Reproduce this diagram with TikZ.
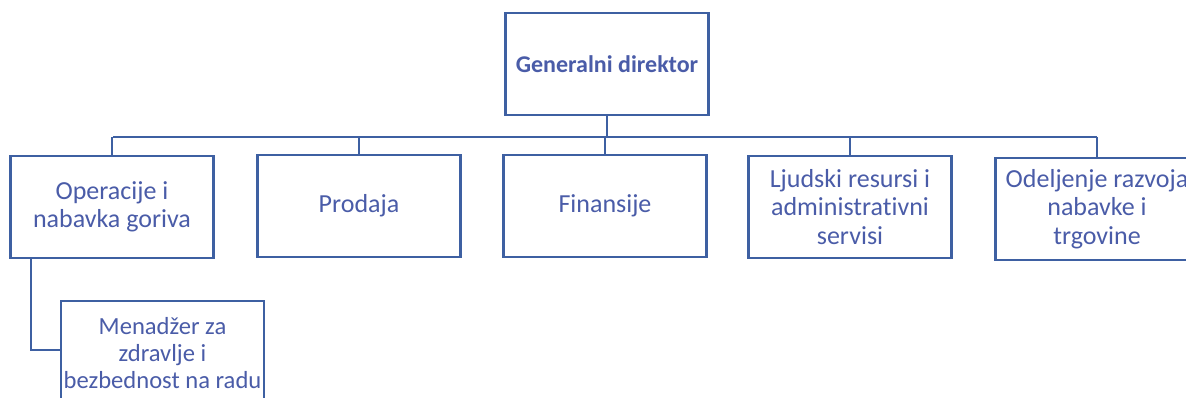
\documentclass[tikz,border=0pt]{standalone}
\usepackage{fontspec}
\setmainfont{Carlito}[Ligatures=NoCommon]
\definecolor{boxblue}{RGB}{62,96,162}
\definecolor{textblue}{RGB}{74,92,168}
\begin{document}
\begin{tikzpicture}[x=1pt,y=-1pt,
  unit/.style={draw=boxblue,line width=2.8pt,minimum width=203pt,minimum height=102pt,
    inner sep=0pt},
  lbl/.style={align=center,inner sep=0pt,text=textblue,
    font=\fontsize{26}{28.5}\selectfont},
  link/.style={draw=boxblue,line width=2.6pt}]
\useasboundingbox (0,0) rectangle (1186,398);
\clip (0,0) rectangle (1186,398);
\fill[white] (0,0) rectangle (1186,398);
\node[unit,label={[lbl,font=\bfseries\fontsize{24}{28}\selectfont]center:Generalni direktor}] (top) at (607,64) {};
\node[unit,label={[lbl]center:{Operacije i\\nabavka goriva}}] (ops) at (112,207) {};
\node[unit,label={[lbl]center:Prodaja}] (sales) at (359,206) {};
\node[unit,label={[lbl]center:Finansije}] (fin) at (605,206) {};
\node[unit,label={[lbl]center:{Ljudski resursi i\\administrativni\\servisi}}] (hr) at (850,207) {};
\node[unit,label={[lbl]center:{Odeljenje razvoja\\nabavke i\\trgovine}}] (dev) at (1097,209) {};
\node[unit,label={[lbl,font=\fontsize{24.6}{27}\selectfont,yshift=-1pt]center:{Menadžer za\\zdravlje i\\bezbednost na radu}}] (hse) at (162.5,352) {};
\coordinate (busL) at (113,137);
\coordinate (busR) at (1097,137);
\coordinate (subc) at (31,350);
\draw[link] (busL) -- (busR);
\draw[link] (top.south) -- (top.south |- busL);
\draw[link] (ops.north |- busL) -- (ops.north);
\draw[link] (sales.north |- busL) -- (sales.north);
\draw[link] (fin.north |- busL) -- (fin.north);
\draw[link] (hr.north |- busL) -- (hr.north);
\draw[link] (dev.north |- busL) -- (dev.north);
\draw[link] (ops.south -| subc) -- (subc) -- (hse.west |- subc);
\end{tikzpicture}
\end{document}
